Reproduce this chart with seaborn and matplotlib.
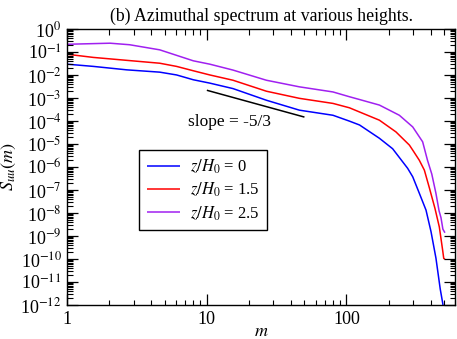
import numpy as np
import pandas as pd
import matplotlib
matplotlib.use("Agg")
import matplotlib.pyplot as plt
import matplotlib.ticker as mticker
import seaborn as sns

# ---- data ----
m_blue = [1, 1.54, 2.67, 4.6, 6.07, 8, 10.5, 15.4, 26.7, 46, 80, 105, 124, 146, 172, 214,
          274, 298, 332, 371, 403, 437, 469, 488, 500]
s_blue = [3.0e-2, 2.4e-2, 1.7e-2, 1.35e-2, 1.02e-2, 6.3e-3, 4.5e-3, 2.6e-3, 8.1e-4, 3.0e-4,
          1.8e-4, 1.0e-4, 6.8e-5, 3.5e-5, 1.8e-5, 6.3e-6, 8.9e-7, 3.8e-7, 7.4e-8, 1.35e-8,
          1.55e-9, 1.1e-10, 5.0e-12, 1.26e-12, 5.0e-13]

m_red = [1, 1.54, 2.67, 4.6, 6.07, 8, 10.5, 15.4, 26.7, 46, 80, 105, 124, 172, 226, 282,
         298, 332, 361, 392, 430, 462, 488, 497, 507]
s_red = [8.1e-2, 5.9e-2, 4.4e-2, 3.3e-2, 2.4e-2, 1.55e-2, 1.02e-2, 6.0e-3, 2.0e-3, 9.8e-4,
         5.9e-4, 3.8e-4, 2.5e-4, 1.1e-4, 3.4e-5, 9.1e-6, 5.5e-6, 2.0e-6, 7.4e-7, 1.26e-7,
         1.6e-8, 2.5e-9, 2.45e-10, 1.07e-10, 1.0e-10]

m_purple = [1, 2.03, 2.8, 4.6, 8, 10.5, 15.4, 26.7, 46, 80, 105, 124, 172, 239, 298, 351,
            380, 408, 437, 460, 475, 490, 507]
s_purple = [0.22, 0.245, 0.21, 0.126, 4.2e-2, 3.0e-2, 1.66e-2, 6.0e-3, 3.1e-3, 1.86e-3,
            1.15e-3, 8.7e-4, 5.0e-4, 1.8e-4, 5.6e-5, 1.26e-5, 2.0e-6, 5.0e-7, 7.2e-8,
            1.26e-8, 6.3e-9, 2.0e-9, 1.4e-9]

labels = ["$z/H_0$ = 0", "$z/H_0$ = 1.5", "$z/H_0$ = 2.5"]
colors = ["#0000ff", "#ff0000", "#a020f0"]

slope_m = [10, 50]
slope_s = [2.2e-3, 1.5e-4]
slope_text = "slope = -5/3"
title = "(b) Azimuthal spectrum at various heights."

XLIM = (1, 600)
YLIM = (1e-12, 1)

df = pd.concat([
    pd.DataFrame({"m": m_blue, "S": s_blue, "series": labels[0]}),
    pd.DataFrame({"m": m_red, "S": s_red, "series": labels[1]}),
    pd.DataFrame({"m": m_purple, "S": s_purple, "series": labels[2]}),
], ignore_index=True)

sns.set_style("white")
plt.rcParams.update({
    "font.family": ["Liberation Serif", "DejaVu Serif"],
    "mathtext.fontset": "stix",
    "axes.edgecolor": "black", "axes.linewidth": 1.0,
    "text.color": "black", "axes.labelcolor": "black",
    "xtick.direction": "in", "ytick.direction": "in",
    "xtick.color": "black", "ytick.color": "black",
    "lines.solid_capstyle": "butt",
})

fig = plt.figure(figsize=(4.57, 3.39), dpi=100)
ax = fig.add_axes([0.147, 0.100, 0.849, 0.814])

sns.lineplot(data=df, x="m", y="S", hue="series", palette=colors, hue_order=labels,
             sort=False, estimator=None, linewidth=1.1, ax=ax, legend=True)
ax.plot(slope_m, slope_s, color="black", linewidth=1.1)

ax.set_xscale("log")
ax.set_yscale("log")
ax.set_xlim(*XLIM)
ax.set_ylim(*YLIM)

xmaj_loc = mticker.LogLocator(base=10, numticks=20)
xmin_loc = mticker.LogLocator(base=10, subs=np.arange(2, 10), numticks=100)
ymaj_loc = mticker.LogLocator(base=10, numticks=30)
ymin_loc = mticker.LogLocator(base=10, subs=np.arange(2, 10), numticks=200)

ax.xaxis.set_major_locator(xmaj_loc)
ax.yaxis.set_major_locator(ymaj_loc)
ax.xaxis.set_minor_locator(mticker.NullLocator())
ax.yaxis.set_minor_locator(mticker.NullLocator())

def xfmt(v, pos):
    return "%d" % round(v)

def yfmt(v, pos):
    e = int(round(np.log10(v)))
    return "10$^{%d}$" % e

ax.xaxis.set_major_formatter(mticker.FuncFormatter(xfmt))
ax.yaxis.set_major_formatter(mticker.FuncFormatter(yfmt))

# tick marks drawn as line collections (inward, on all four sides)
def within(vals, lo, hi):
    return [v for v in vals if lo * (1 - 1e-9) <= v <= hi * (1 + 1e-9)]

xmaj = within(xmaj_loc.tick_values(*XLIM), *XLIM)
xmin = within(xmin_loc.tick_values(*XLIM), *XLIM)
ymaj = within(ymaj_loc.tick_values(*YLIM), *YLIM)
ymin = within(ymin_loc.tick_values(*YLIM), *YLIM)

ax_w_px = 0.849 * 457
ax_h_px = 0.814 * 339
maj_px, min_px = 11.0, 5.5
xt = ax.get_xaxis_transform()
yt = ax.get_yaxis_transform()
for vals, L, lw in ((xmaj, maj_px, 0.9), (xmin, min_px, 0.8)):
    f = L / ax_h_px
    ax.vlines(vals, 0, f, transform=xt, color="black", linewidth=lw, clip_on=False, zorder=2.5)
    ax.vlines(vals, 1 - f, 1, transform=xt, color="black", linewidth=lw, clip_on=False, zorder=2.5)
for vals, L, lw in ((ymaj, maj_px, 0.9), (ymin, min_px, 0.8)):
    f = L / ax_w_px
    ax.hlines(vals, 0, f, transform=yt, color="black", linewidth=lw, clip_on=False, zorder=2.5)
    ax.hlines(vals, 1 - f, 1, transform=yt, color="black", linewidth=lw, clip_on=False, zorder=2.5)

ax.set_xlim(*XLIM)
ax.set_ylim(*YLIM)

ax.set_xlabel("$m$", fontsize=13, labelpad=-3)
ax.set_ylabel("$S_{uu}(m)$", fontsize=13, labelpad=2)
ax.set_title(title, fontsize=12.8, pad=6)

ax.text(7.3, 9.0e-5, slope_text, fontsize=12.5, ha="left", va="center")

leg = ax.legend(loc="upper left", bbox_to_anchor=(0.186, 0.562), borderaxespad=0,
                fontsize=12, frameon=True, fancybox=False, edgecolor="black",
                framealpha=1, handlelength=2.0, borderpad=0.45, labelspacing=0.3,
                handletextpad=0.6)
leg.get_frame().set_linewidth(1.0)
leg.set_zorder(5)

ax.tick_params(which="both", direction="in", bottom=True, left=True, top=False, right=False,
               color="black", labelcolor="black", labelsize=13)
ax.tick_params(which="major", length=0, pad=4)

fig.savefig("out.png", dpi=100)
